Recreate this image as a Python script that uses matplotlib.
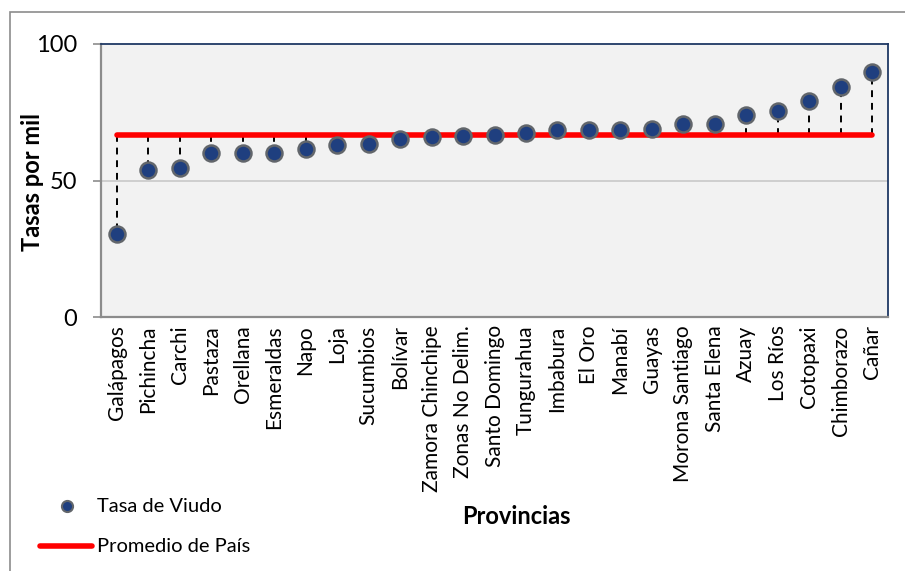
import matplotlib.pyplot as plt
from matplotlib.patches import Rectangle
from matplotlib.lines import Line2D

provincias = ['Galápagos', 'Pichincha', 'Carchi', 'Pastaza', 'Orellana', 'Esmeraldas',
              'Napo', 'Loja', 'Sucumbios', 'Bolívar', 'Zamora Chinchipe', 'Zonas No Delim.',
              'Santo Domingo', 'Tungurahua', 'Imbabura', 'El Oro', 'Manabí', 'Guayas',
              'Morona Santiago', 'Santa Elena', 'Azuay', 'Los Ríos', 'Cotopaxi',
              'Chimborazo', 'Cañar']
tasa_viudo = [30.4, 53.7, 54.7, 59.9, 59.9, 60.2, 61.6, 63.0, 63.2, 65.3, 65.9, 66.3,
              66.8, 67.3, 68.4, 68.6, 68.6, 69.0, 70.6, 70.6, 73.9, 75.4, 79.2, 84.4, 89.8]
promedio_pais = 66.7

plt.rcParams['font.family'] = ['Lato', 'DejaVu Sans']

W, H = 905, 571
fig = plt.figure(figsize=(W / 100, H / 100), dpi=100)

# outer chart border
fig.patches.append(Rectangle((10 / W, -0.1), 1.2, 1 - 12 / H + 0.1, transform=fig.transFigure,
                             fill=False, edgecolor='#8c8c8c', linewidth=1.2))

ax = fig.add_axes([101 / W, 1 - 317 / H, 787 / W, 273 / H])
ax.set_facecolor('#f2f2f2')

x = list(range(len(provincias)))

# drop lines from the average to each point
ax.vlines(x, promedio_pais, tasa_viudo, colors='black', linestyles=(0, (3.5, 3)),
          linewidth=1.4, zorder=2)
ax.plot([x[0], x[-1]], [promedio_pais, promedio_pais], color='#ff0000', linewidth=4,
        solid_capstyle='round', zorder=3)
ax.plot(x, tasa_viudo, linestyle='none', marker='o', markersize=11.5,
        markerfacecolor='#1f3f7f', markeredgecolor='#62666b', markeredgewidth=1.8, zorder=4)

ax.set_xlim(-0.5, len(provincias) - 0.5)
ax.set_ylim(0, 100)
ax.set_yticks([0, 50, 100])
ax.axhline(50, color='#c8c8c8', linewidth=1.2, zorder=1)

ax.set_xticks(x)
ax.set_xticklabels(provincias, rotation=90, fontsize=15)
ax.tick_params(axis='x', length=0, pad=6)
ax.tick_params(axis='y', labelsize=17, length=6, color='#8c8c8c', width=1.2, pad=11)

for s in ['top', 'right']:
    ax.spines[s].set_color('#1f3864')
    ax.spines[s].set_linewidth(1.3)
for s in ['left', 'bottom']:
    ax.spines[s].set_color('#8c8c8c')
    ax.spines[s].set_linewidth(1.6)

ax.set_ylabel('Tasas por mil', fontsize=17, fontweight='bold')
ax.yaxis.set_label_coords(-57 / 787, 0.496)
fig.text(516 / W, 1 - 516 / H, 'Provincias', fontsize=17, fontweight='bold',
         ha='center', va='center')

# legend
fig.add_artist(Line2D([67 / W], [1 - 506 / H], marker='o', markersize=8, linestyle='none',
                      markerfacecolor='#1f3f7f', markeredgecolor='#62666b',
                      markeredgewidth=1.5, transform=fig.transFigure))
fig.text(97 / W, 1 - 506 / H, 'Tasa de Viudo', fontsize=14.5, va='center')
fig.add_artist(Line2D([40 / W, 92 / W], [1 - 546 / H, 1 - 546 / H], color='#ff0000',
                      linewidth=4, solid_capstyle='round', transform=fig.transFigure))
fig.text(97 / W, 1 - 546 / H, 'Promedio de País', fontsize=14.5, va='center')

fig.savefig('out.png', dpi=100)
